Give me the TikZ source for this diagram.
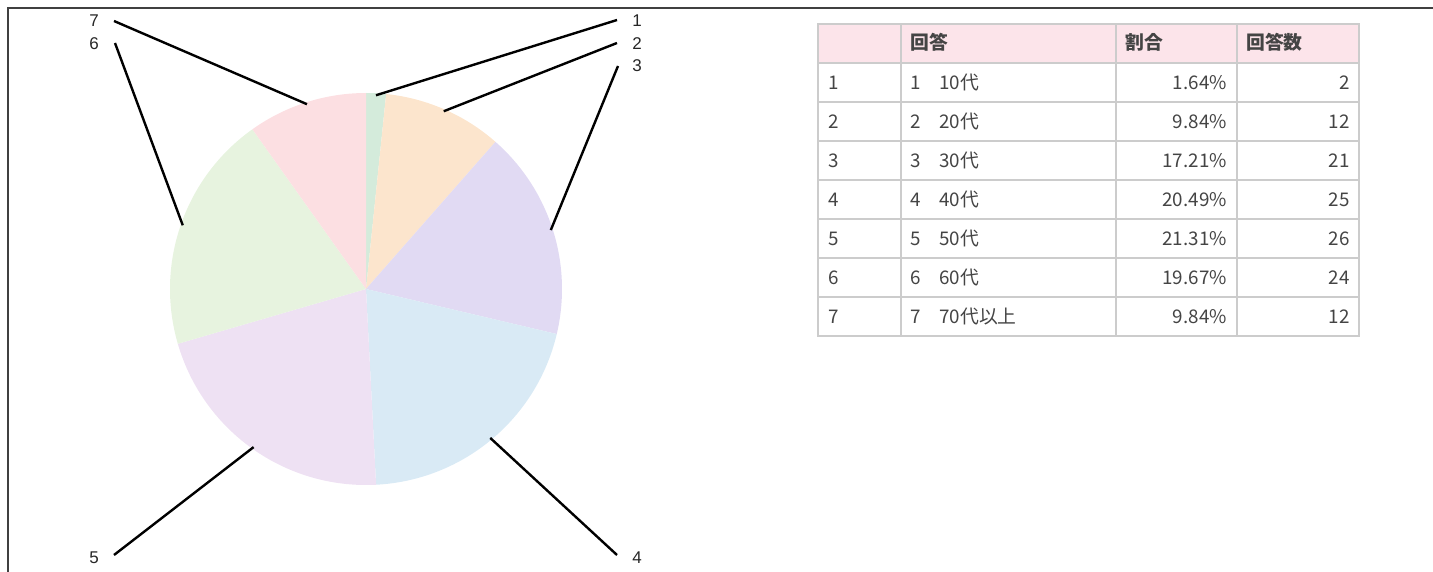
\documentclass[tikz,border=0pt]{standalone}
\usepackage{fontspec}
\setmainfont{Liberation Sans}
\newfontfamily\jp{Noto Sans CJK JP}
\usetikzlibrary{calc}
\definecolor{sA}{HTML}{D4EBDB}
\definecolor{sB}{HTML}{FCE5CD}
\definecolor{sC}{HTML}{E1DAF3}
\definecolor{sD}{HTML}{D9EAF5}
\definecolor{sE}{HTML}{EEE1F3}
\definecolor{sF}{HTML}{E7F3DF}
\definecolor{sG}{HTML}{FCDFE2}
\definecolor{hdrpink}{HTML}{FCE4EA}
\definecolor{gridgray}{HTML}{CCCCCC}
\definecolor{txt}{HTML}{444444}
\tikzset{
  frameline/.style={draw=black!75, line width=1.6pt},
  leader/.style={draw=black, line width=2.4pt},
  lab/.style={inner sep=0pt, font=\fontsize{17}{20}\selectfont, text=black!85},
  gridline/.style={draw=gridgray, line width=2pt},
  cell/.style={inner sep=0pt, font=\jp\fontsize{18.8}{22}\selectfont, text=txt},
  hcell/.style={cell, font=\jp\bfseries\fontsize{18.8}{22}\selectfont}
}
\begin{document}
\begin{tikzpicture}[x=1pt,y=1pt]
\useasboundingbox (0,0) rectangle (1433,-572);
% frame
\draw[frameline] (8,-572) -- (8,-8) -- (1433,-8);
% pie
\coordinate (C) at (366,-289);
\foreach \a/\b/\c in {90/84.096/sA, 84.096/48.672/sB, 48.672/-13.284/sC, -13.284/-87.048/sD, -87.048/-163.764/sE, -163.764/-234.576/sF, -234.576/-270/sG}{
  \fill[\c] (C) -- ([shift={(\a:196)}]C) arc[start angle=\a, end angle=\b, radius=196] -- cycle;
}
% anchor points on the pie
\coordinate (p1) at ([shift={(87.048:194)}]C);
\coordinate (p2) at ([shift={(66.384:194)}]C);
\coordinate (p3) at ([shift={(17.694:194)}]C);
\coordinate (p4) at ([shift={(-50.166:194)}]C);
\coordinate (p5) at ([shift={(-125.406:194)}]C);
\coordinate (p6) at ([shift={(-199.17:194)}]C);
\coordinate (p7) at ([shift={(-252.288:194)}]C);
% labels
\node[lab] (l1) at (637,-21) {1};
\node[lab] (l2) at (637,-44) {2};
\node[lab] (l3) at (637,-66) {3};
\node[lab] (l4) at (637,-558) {4};
\node[lab] (l5) at (94,-558) {5};
\node[lab] (l6) at (94,-44) {6};
\node[lab] (l7) at (94,-21) {7};
\coordinate (e1) at (617,-20);
\coordinate (e2) at (617,-43);
\coordinate (e3) at (618,-66);
\coordinate (e4) at (617,-555);
\coordinate (e5) at (114,-555);
\coordinate (e6) at (115,-43);
\coordinate (e7) at (114,-21);
\foreach \i in {1,...,7}{\draw[leader] (p\i) -- (e\i);}
% table
\fill[hdrpink] (818,-24) rectangle (1359,-63);
\foreach \y in {24,63,102,141,180,219,258,297,336}{\draw[gridline] (817,-\y) -- (1360,-\y);}
\foreach \x in {818,901,1116,1237,1359}{\draw[gridline] (\x,-24) -- (\x,-336);}
\node[hcell, anchor=base west] (h2) at (910,-50) {回答};
\node[hcell, anchor=base west] (h3) at (1125,-50) {割合};
\node[hcell, anchor=base west] (h4) at (1246,-50) {回答数};
\foreach \n/\lab/\pct/\cnt [count=\i] in {1/10代/1.64\%/2, 2/20代/9.84\%/12, 3/30代/17.21\%/21, 4/40代/20.49\%/25, 5/50代/21.31\%/26, 6/60代/19.67\%/24, 7/70代以上/9.84\%/12}{
  \pgfmathsetmacro{\yy}{-(63+39*(\i-1)+19.5)-7}
  \node[cell, anchor=base west] (r\i a) at (828,\yy) {\n};
  \node[cell, anchor=base west] (r\i b) at (910,\yy) {\n　\lab};
  \node[cell, anchor=base east] (r\i c) at (1227,\yy) {\pct};
  \node[cell, anchor=base east] (r\i d) at (1350,\yy) {\cnt};
}
\end{tikzpicture}
\end{document}
